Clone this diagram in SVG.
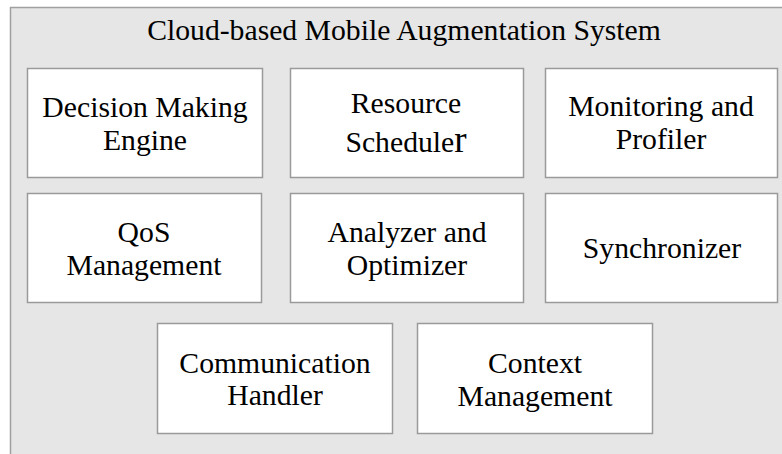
<svg xmlns="http://www.w3.org/2000/svg" width="782" height="454" viewBox="0 0 782 454">
<style>
.box{fill:#ffffff;stroke:#9a9a9a;stroke-width:1.5}
.t{font-family:"Liberation Serif","Times New Roman",serif;font-size:29.7px;fill:#000;text-anchor:middle}
</style>
<rect x="0" y="0" width="782" height="454" fill="#ffffff"/>
<g id="system">
<rect x="10.5" y="7.5" width="790" height="460" fill="#e6e6e6" stroke="#a0a0a0" stroke-width="1.5"/>
<text class="t" x="404" y="40">Cloud-based Mobile Augmentation System</text>
</g>
<g id="decision-making-engine">
<rect class="box" x="27.5" y="68.5" width="235" height="109"/>
<text class="t" x="145" y="117">Decision Making</text>
<text class="t" x="145" y="150">Engine</text>
</g>
<g id="resource-scheduler">
<rect class="box" x="290.5" y="68.5" width="233" height="109"/>
<text class="t" x="406" y="113">Resource</text>
<text class="t" x="406" y="152">Schedule<tspan style="font-size:37px">r</tspan></text>
</g>
<g id="monitoring-profiler">
<rect class="box" x="545.5" y="68.5" width="232" height="109"/>
<text class="t" x="661" y="116">Monitoring and</text>
<text class="t" x="661" y="149">Profiler</text>
</g>
<g id="qos-management">
<rect class="box" x="27.5" y="193.5" width="234" height="109"/>
<text class="t" x="144" y="242">QoS</text>
<text class="t" x="144" y="275">Management</text>
</g>
<g id="analyzer-optimizer">
<rect class="box" x="290.5" y="193.5" width="233" height="109"/>
<text class="t" x="407" y="242">Analyzer and</text>
<text class="t" x="407" y="275">Optimizer</text>
</g>
<g id="synchronizer">
<rect class="box" x="545.5" y="193.5" width="232" height="109"/>
<text class="t" x="662" y="258">Synchronizer</text>
</g>
<g id="communication-handler">
<rect class="box" x="157.5" y="323.5" width="235" height="110"/>
<text class="t" x="275" y="373">Communication</text>
<text class="t" x="275" y="405">Handler</text>
</g>
<g id="context-management">
<rect class="box" x="417.5" y="323.5" width="235" height="110"/>
<text class="t" x="535" y="373">Context</text>
<text class="t" x="535" y="406">Management</text>
</g>
<g id="connectors"></g>
</svg>
